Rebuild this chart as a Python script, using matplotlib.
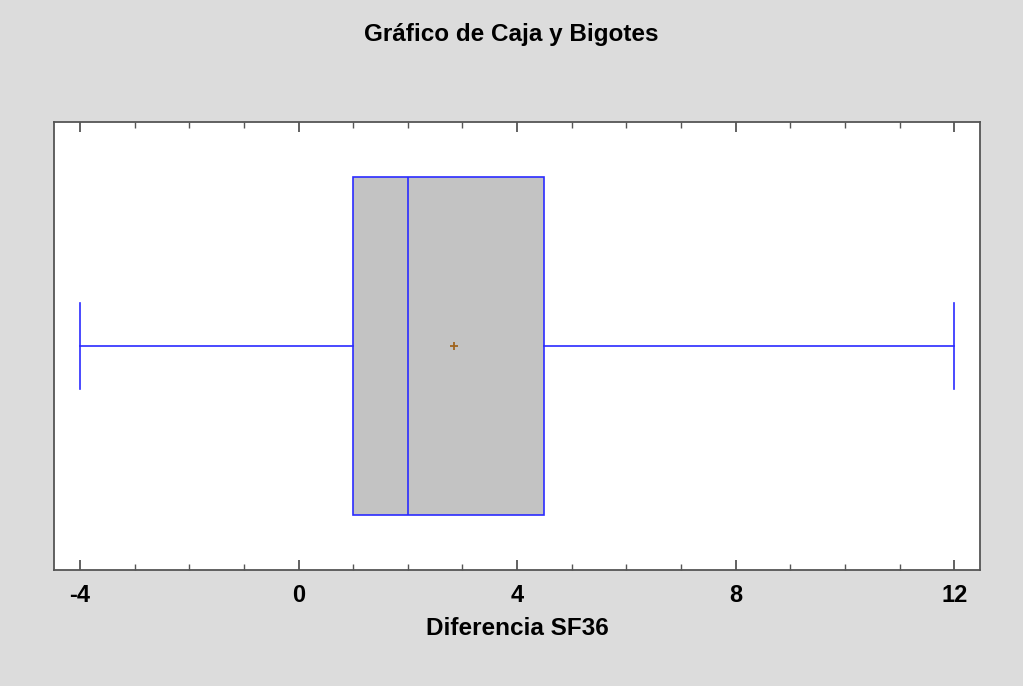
import matplotlib.pyplot as plt
from matplotlib.ticker import MultipleLocator

# resumen de la variable Diferencia SF36
minimo = -4
q1 = 1
mediana = 2
media = 2.85
q3 = 4.5
maximo = 12
xticks = [-4, 0, 4, 8, 12]

plt.rcParams['font.family'] = ['Liberation Sans', 'DejaVu Sans']

fig = plt.figure(figsize=(10.23, 6.86), dpi=100, facecolor='#dcdcdc')
ax = fig.add_axes([0.053, 0.169, 0.905, 0.653])
ax.set_facecolor('white')

stats = [{'whislo': minimo, 'q1': q1, 'med': mediana, 'q3': q3,
          'whishi': maximo, 'mean': media, 'fliers': []}]
azul = '#2b2bff'
ax.bxp(stats, positions=[0.5], widths=0.756, vert=False, patch_artist=True,
       showmeans=True, capwidths=0.192,
       boxprops=dict(facecolor='#c3c3c3', edgecolor=azul, linewidth=1.2),
       medianprops=dict(color=azul, linewidth=1.2),
       whiskerprops=dict(color=azul, linewidth=1.2),
       capprops=dict(color=azul, linewidth=1.2),
       meanprops=dict(marker='+', markeredgecolor='#a0641e', markersize=6, markeredgewidth=1.3))

ax.set_ylim(0, 1)
ax.set_xlim(-4.47, 12.47)
ax.set_yticks([])
ax.set_xticks(xticks)
ax.set_xticklabels([str(t) for t in xticks])
ax.xaxis.set_minor_locator(MultipleLocator(1))
ax.tick_params(axis='x', which='major', direction='in', length=7, width=1.3,
               top=True, labelsize=17, pad=10, color='#555555')
ax.tick_params(axis='x', which='minor', direction='in', length=4, width=1,
               top=True, color='#555555')
for lbl in ax.get_xticklabels():
    lbl.set_fontweight('bold')
for s in ax.spines.values():
    s.set_color('#555555')
    s.set_linewidth(1.3)

ax.set_xlabel('Diferencia SF36', fontsize=17.5, fontweight='bold', labelpad=7)
fig.suptitle('Gráfico de Caja y Bigotes', fontsize=17.5, fontweight='bold', y=0.966)

fig.savefig('out.png', dpi=100, facecolor=fig.get_facecolor())
